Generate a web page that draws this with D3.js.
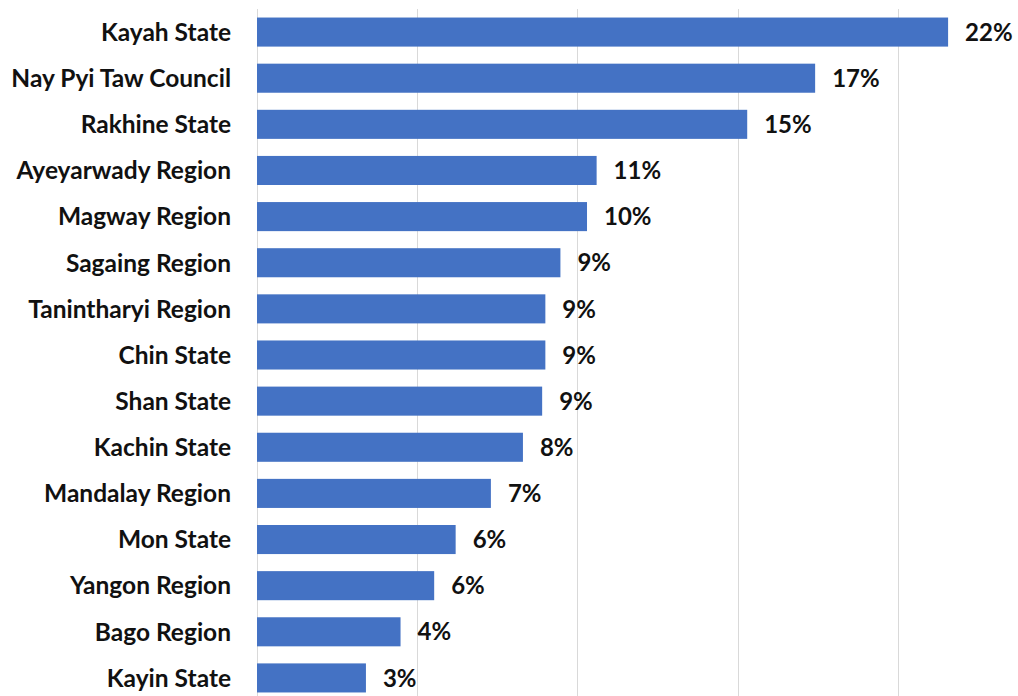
<!DOCTYPE html>
<html>
<head>
<meta charset="utf-8">
<script src="https://cdn.jsdelivr.net/npm/d3@7"></script>
<style>
  html, body { margin: 0; padding: 0; background: #fff; }
  svg { display: block; }
  text { font-family: Lato, "Open Sans", sans-serif; font-weight: 700; fill: #111; }
</style>
</head>
<body>
<svg id="chart" width="1018" height="696"></svg>
<script>
// Share by state / region
const regions = [
  "Kayah State", "Nay Pyi Taw Council", "Rakhine State", "Ayeyarwady Region",
  "Magway Region", "Sagaing Region", "Tanintharyi Region", "Chin State",
  "Shan State", "Kachin State", "Mandalay Region", "Mon State",
  "Yangon Region", "Bago Region", "Kayin State"
];
const shares = [
  0.2157, 0.1742, 0.153, 0.106,
  0.103, 0.0947, 0.090, 0.090,
  0.089, 0.083, 0.073, 0.062,
  0.0553, 0.0448, 0.034
];
const gridTicks = [0, 0.05, 0.10, 0.15, 0.20];

const svg = d3.select("#chart");

const x = d3.scaleLinear().domain([0, 0.25]).range([257, 1058]);
const y = d3.scaleBand().domain(regions).range([9, 701])
  .paddingInner(0.37).paddingOuter(0.185);

const fmt = d3.format(".0%");

// vertical gridlines
svg.append("g")
  .selectAll("line")
  .data(gridTicks)
  .join("line")
  .attr("x1", d => Math.round(x(d)) + 0.5)
  .attr("x2", d => Math.round(x(d)) + 0.5)
  .attr("y1", y.range()[0])
  .attr("y2", y.range()[1])
  .attr("stroke", "#d9d9d9")
  .attr("stroke-width", 1);

// bars
svg.append("g")
  .selectAll("rect")
  .data(regions)
  .join("rect")
  .attr("x", x(0))
  .attr("y", d => y(d))
  .attr("width", (d, i) => x(shares[i]) - x(0))
  .attr("height", y.bandwidth())
  .attr("fill", "#4472c4");

// category labels
svg.append("g")
  .selectAll("text")
  .data(regions)
  .join("text")
  .attr("x", 231)
  .attr("y", d => y(d) + y.bandwidth() / 2)
  .attr("dy", "0.36em")
  .attr("text-anchor", "end")
  .style("font-size", "24.5px")
  .text(d => d);

// value labels
svg.append("g")
  .selectAll("text")
  .data(regions)
  .join("text")
  .attr("x", (d, i) => x(shares[i]) + 17)
  .attr("y", d => y(d) + y.bandwidth() / 2)
  .attr("dy", "0.36em")
  .style("font-size", "24px")
  .text((d, i) => fmt(shares[i]));
</script>
</body>
</html>
